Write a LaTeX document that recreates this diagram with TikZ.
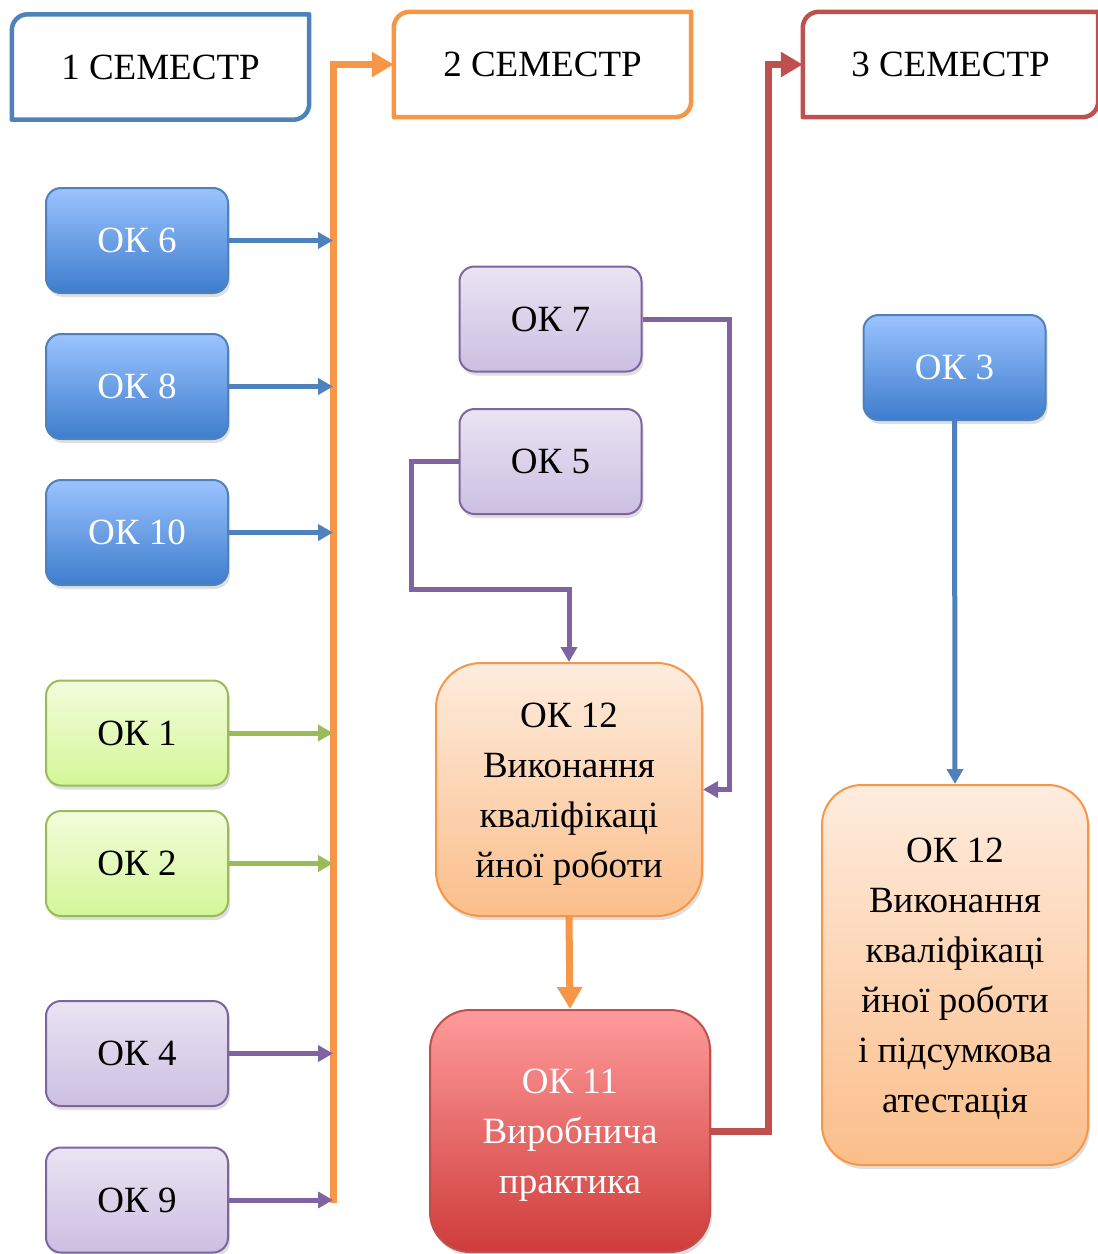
\documentclass[tikz,border=0pt]{standalone}
\usepackage{fontspec}
\setmainfont{Liberation Serif}
\usetikzlibrary{arrows.meta,shadows,calc}
\definecolor{cblue}{RGB}{79,129,189}
\definecolor{corange}{RGB}{247,150,70}
\definecolor{cred}{RGB}{192,80,77}
\definecolor{cgreen}{RGB}{155,187,89}
\definecolor{cpurple}{RGB}{128,100,162}
\definecolor{bluetop}{RGB}{155,195,255}
\definecolor{bluebot}{RGB}{62,125,205}
\definecolor{greentop}{RGB}{242,253,220}
\definecolor{greenbot}{RGB}{212,246,152}
\definecolor{purptop}{RGB}{234,228,242}
\definecolor{purpbot}{RGB}{204,191,226}
\definecolor{peachtop}{RGB}{254,236,222}
\definecolor{peachbot}{RGB}{251,190,138}
\definecolor{redtop}{RGB}{255,155,155}
\definecolor{redbot}{RGB}{206,60,58}
\begin{document}
\begin{tikzpicture}[x=1pt,y=-1pt,
  font=\fontsize{37}{50}\selectfont,
  hdr/.style={minimum width=297pt, minimum height=105pt, inner sep=0pt},
  hdrline/.style={line width=4.5pt, line join=round},
  okbase/.style={rounded corners=15pt, minimum width=182pt, minimum height=105pt,
     line width=2pt, inner sep=0pt, align=center,
     drop shadow={shadow xshift=2pt, shadow yshift=-4pt, opacity=0.25}},
  bluebox/.style={okbase, draw=cblue, top color=bluetop, bottom color=bluebot, text=white},
  greenbox/.style={okbase, draw=cgreen, top color=greentop, bottom color=greenbot},
  purpbox/.style={okbase, draw=cpurple, top color=purptop, bottom color=purpbot},
  peachbox/.style={okbase, draw=corange, top color=peachtop, bottom color=peachbot},
  redbox/.style={okbase, draw=cred, top color=redtop, bottom color=redbot, text=white},
  sarr/.style={line width=5pt, -{Triangle[width=16pt,length=15pt]}},
  barr/.style={line width=7pt, -{Triangle[width=24pt,length=22pt]}},
]
\useasboundingbox (0,0) rectangle (1098,1254);

% headers
\node[hdr] (s1) at (160.5,67) {1 СЕМЕСТР};
\node[hdr] (s2) at (542.5,64.5) {2 СЕМЕСТР};
\node[hdr, minimum width=295pt] (s3) at (950.5,64.5) {3 СЕМЕСТР};
\foreach \n/\c in {s1/cblue, s2/corange, s3/cred}{
  \draw[hdrline, draw=\c] (\n.south west) -- ($(\n.north west)+(0,16)$)
     .. controls ($(\n.north west)+(0,7)$) and ($(\n.north west)+(7,0)$) .. ($(\n.north west)+(16,0)$)
     -- (\n.north east) -- ($(\n.south east)+(0,-16)$)
     .. controls ($(\n.south east)+(0,-7)$) and ($(\n.south east)+(-7,0)$) .. ($(\n.south east)+(-16,0)$)
     -- cycle;
}

% left column
\node[bluebox] (ok6) at (137,240.5) {ОК 6};
\node[bluebox] (ok8) at (137,386.5) {ОК 8};
\node[bluebox] (ok10) at (137,532.5) {ОК 10};
\node[greenbox] (ok1) at (137,733) {ОК 1};
\node[greenbox] (ok2) at (137,863.5) {ОК 2};
\node[purpbox] (ok4) at (137,1053.5) {ОК 4};
\node[purpbox] (ok9) at (137,1200) {ОК 9};

% middle column
\node[purpbox] (ok7) at (550.5,319) {ОК 7};
\node[purpbox] (ok5) at (550.5,461.5) {ОК 5};
\node[peachbox, rounded corners=45pt, minimum width=266pt, minimum height=253pt] (ok12) at (569,789.5)
  {\rule{0pt}{34pt}ОК 12\\Виконання\\кваліфікаці\\йної роботи};
\node[redbox, rounded corners=40pt, minimum width=280pt, minimum height=242pt] (ok11) at (570,1131)
  {\rule{0pt}{32pt}ОК 11\\Виробнича\\практика};

% right column
\node[bluebox] (ok3) at (954.5,367.5) {ОК 3};
\node[peachbox, rounded corners=40pt, minimum width=266pt, minimum height=380pt] (ok12b) at (955,975)
  {\rule{0pt}{32pt}ОК 12\\Виконання\\кваліфікаці\\йної роботи\\і підсумкова\\атестація};

% trunk
\coordinate (trunkbot) at (333,1203);
\coordinate (trunktop) at (333,64.5);
\draw[barr, corange] (trunkbot) -- (trunktop) -- (s2.west);

% left arrows
\draw[sarr, cblue] (ok6.east) -- (ok6.east -| trunktop);
\draw[sarr, cblue] (ok8.east) -- (ok8.east -| trunktop);
\draw[sarr, cblue] (ok10.east) -- (ok10.east -| trunktop);
\draw[sarr, cgreen] (ok1.east) -- (ok1.east -| trunktop);
\draw[sarr, cgreen] (ok2.east) -- (ok2.east -| trunktop);
\draw[sarr, cpurple] (ok4.east) -- (ok4.east -| trunktop);
\draw[sarr, cpurple] (ok9.east) -- (ok9.east -| trunktop);

% middle connectors
\coordinate (c7) at (729,789.5);
\draw[sarr, cpurple] (ok7.east) -| (c7) -- (ok12.east);
\coordinate (c5) at (411,589);
\draw[sarr, cpurple] (ok5.west) -| (c5) -| (ok12.north);
\draw[barr, corange] (ok12.south) -- (ok11.north);

% red connector
\coordinate (cr) at (768,1131);
\draw[barr, cred] (ok11.east) -- (cr) |- (s3.west);

% right connector
\draw[sarr, cblue] (ok3.south) -- (ok12b.north);
\end{tikzpicture}
\end{document}
